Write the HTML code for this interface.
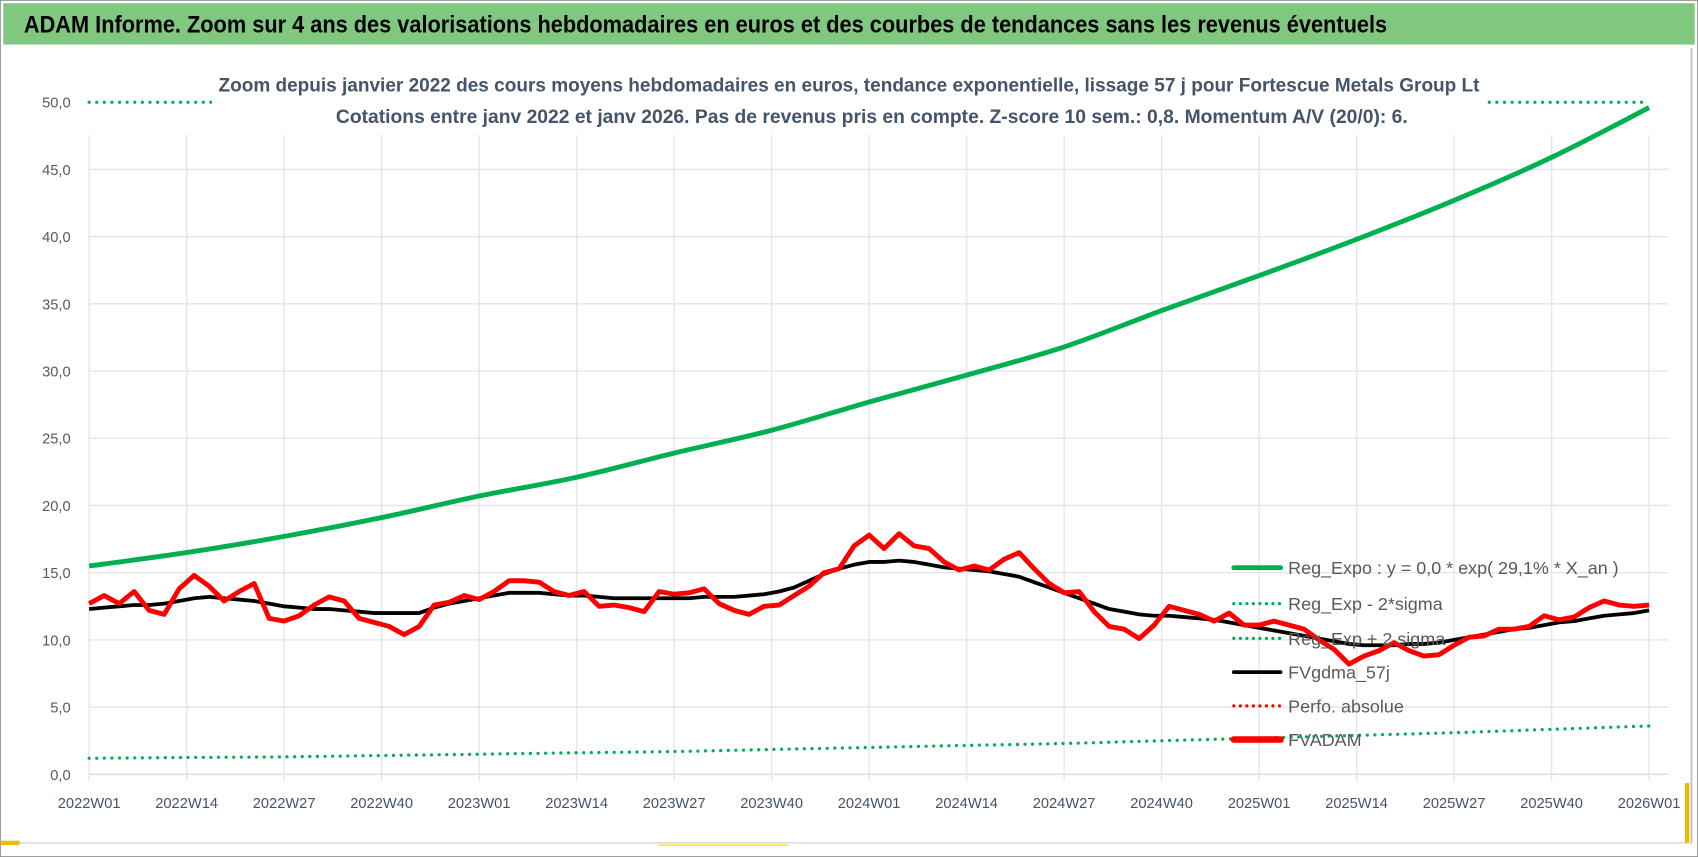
<!DOCTYPE html>
<html><head><meta charset="utf-8">
<style>
html,body{margin:0;padding:0;background:#fff;}
svg{display:block;}
text{font-family:"Liberation Sans Narrow","Liberation Sans",sans-serif;}
</style></head>
<body>
<svg id="chart" width="1698" height="857" viewBox="0 0 1562 788" preserveAspectRatio="none" xmlns="http://www.w3.org/2000/svg">
  <rect x="0" y="0" width="1562" height="788" fill="#fff" stroke="#888" stroke-width="1.5"/>
  <rect x="3" y="3" width="1556" height="38" fill="#80c87f"/>
  <text x="22" y="30" font-size="22" font-weight="bold" fill="#000" textLength="1254" lengthAdjust="spacingAndGlyphs">ADAM Informe. Zoom sur 4 ans des valorisations hebdomadaires en euros et des courbes de tendances sans les revenus éventuels</text>
  <line x1="1556" y1="44" x2="1556" y2="776" stroke="#bbb" stroke-width="1.5"/>
  <line x1="3" y1="775" x2="1556" y2="775" stroke="#ddd" stroke-width="1.5"/>
  <rect x="1" y="773" width="17" height="4" fill="#f5b800"/>
  <rect x="1550" y="720" width="4" height="55" fill="#f5b800"/>
  <rect x="605" y="776" width="120" height="2" fill="#fbe870"/>
  <g id="grid"></g>
  <g id="series"></g>
  <rect x="195" y="60" width="1172" height="64" fill="#fff"/>
  <text x="781" y="84" font-size="17.5" font-weight="bold" fill="#44546a" text-anchor="middle" textLength="1160" lengthAdjust="spacingAndGlyphs">Zoom depuis janvier 2022 des cours moyens hebdomadaires en euros, tendance exponentielle, lissage 57 j pour Fortescue Metals Group Lt</text>
  <text x="802" y="113" font-size="17.5" font-weight="bold" fill="#44546a" text-anchor="middle" textLength="986" lengthAdjust="spacingAndGlyphs">Cotations entre janv 2022 et janv 2026. Pas de revenus pris en compte. Z-score 10 sem.: 0,8. Momentum A/V (20/0): 6.</text>
  <g id="legend"></g>
</svg>
<script>
// ---- data ----
const yTicks = [0,5,10,15,20,25,30,35,40,45,50];
const yTickLabels = ["0,0","5,0","10,0","15,0","20,0","25,0","30,0","35,0","40,0","45,0","50,0"];
const xTickWeeks = [0,13,26,39,52,65,78,91,104,117,130,143,156,169,182,195,208];
const xTickLabels = ["2022W01","2022W14","2022W27","2022W40","2023W01","2023W14","2023W27","2023W40","2024W01","2024W14","2024W27","2024W40","2025W01","2025W14","2025W27","2025W40","2026W01"];
// quarterly trend values (at xTickWeeks)
const regExpo = [15.5,16.5,17.7,19.1,20.7,22.1,23.9,25.6,27.7,29.7,31.8,34.5,37.1,39.8,42.7,45.9,49.6];
const regMinus2s = [1.2,1.25,1.3,1.4,1.5,1.6,1.7,1.85,2.0,2.15,2.3,2.5,2.7,2.9,3.1,3.35,3.6];
const regPlus2s = [57,59,61,63,65,68,71,74,77,80,84,88,92,96,100,105,110];
// bi-weekly values (weeks 0,2,...,208)
const fvadam = [12.7,13.3,12.7,13.6,12.2,11.9,13.8,14.8,14.0,12.9,13.6,14.2,11.6,11.4,11.8,12.6,13.2,12.9,11.6,11.3,11.0,10.4,11.0,12.6,12.8,13.3,13.0,13.6,14.4,14.4,14.3,13.6,13.3,13.6,12.5,12.6,12.4,12.1,13.6,13.4,13.5,13.8,12.7,12.2,11.9,12.5,12.6,13.3,14.0,15.0,15.3,17.0,17.8,16.8,17.9,17.0,16.8,15.8,15.2,15.5,15.2,16.0,16.5,15.3,14.2,13.5,13.6,12.1,11.0,10.8,10.1,11.1,12.5,12.2,11.9,11.4,12.0,11.1,11.1,11.4,11.1,10.8,10.0,9.3,8.2,8.8,9.2,9.8,9.2,8.8,8.9,9.6,10.2,10.3,10.8,10.8,11.0,11.8,11.5,11.7,12.4,12.9,12.6,12.5,12.6];
const fvgdma = [12.3,12.4,12.5,12.6,12.6,12.7,12.9,13.1,13.2,13.1,13.0,12.9,12.7,12.5,12.4,12.3,12.3,12.2,12.1,12.0,12.0,12.0,12.0,12.4,12.7,12.9,13.1,13.3,13.5,13.5,13.5,13.4,13.3,13.3,13.2,13.1,13.1,13.1,13.1,13.1,13.1,13.2,13.2,13.2,13.3,13.4,13.6,13.9,14.4,14.9,15.3,15.6,15.8,15.8,15.9,15.8,15.6,15.4,15.3,15.2,15.1,14.9,14.7,14.3,13.9,13.5,13.1,12.7,12.3,12.1,11.9,11.8,11.8,11.7,11.6,11.5,11.3,11.1,10.9,10.7,10.5,10.3,10.1,9.9,9.7,9.6,9.6,9.6,9.7,9.7,9.8,10.0,10.2,10.4,10.6,10.8,10.9,11.1,11.3,11.4,11.6,11.8,11.9,12.0,12.2];

// ---- axes ----
const X0=82, X1=1517, WMAX=208, Y0=712, Y50=94;
function xs(w){return X0+(X1-X0)*w/WMAX;}
function ys(v){return Y0+(Y50-Y0)*Math.min(v,50)/50;}
const NS="http://www.w3.org/2000/svg";
function mk(tag,attrs,parent){const e=document.createElementNS(NS,tag);for(const k in attrs)e.setAttribute(k,attrs[k]);parent.appendChild(e);return e;}
const grid=document.getElementById('grid'), series=document.getElementById('series'), legend=document.getElementById('legend');

yTicks.forEach((t,i)=>{
  if(t>0&&t<50){const l=mk('line',{x1:X0,x2:1535,y1:ys(t),y2:ys(t),stroke:'#e3e6ea','stroke-width':1.3},grid);
  
  }
  if(t===0){const l=mk('line',{x1:X0,x2:1535,y1:ys(t),y2:ys(t),stroke:'#d9dce0','stroke-width':1.3},grid);
  
  }
  const tx=mk('text',{x:65,y:ys(t)+5,'font-size':13.5,fill:'#595959','text-anchor':'end'},grid);
  tx.textContent=yTickLabels[i];
  
  
});
xTickWeeks.forEach((w,i)=>{
  const l=mk('line',{x1:xs(w),x2:xs(w),y1:124,y2:718,stroke:'#e3e6ea','stroke-width':1.3},grid);
  
  
  const tx=mk('text',{x:xs(w),y:743,'font-size':13.5,fill:'#44546a','text-anchor':'middle'},grid);
  tx.textContent=xTickLabels[i];
  
  
});

function pts(arr,step){return arr.map((v,i)=>xs(i*step).toFixed(1)+','+ys(v).toFixed(1)).join(' ');}
// smooth Catmull-Rom path through data points
function smoothPath(arr,weeks){
  const p=arr.map((v,i)=>[xs(weeks[i]),ys(v)]);
  let d='M'+p[0][0].toFixed(1)+','+p[0][1].toFixed(1);
  for(let i=0;i<p.length-1;i++){
    const p0=p[Math.max(0,i-1)],p1=p[i],p2=p[i+1],p3=p[Math.min(p.length-1,i+2)];
    const c1=[p1[0]+(p2[0]-p0[0])/6,p1[1]+(p2[1]-p0[1])/6];
    const c2=[p2[0]-(p3[0]-p1[0])/6,p2[1]-(p3[1]-p1[1])/6];
    d+=' C'+c1[0].toFixed(1)+','+c1[1].toFixed(1)+' '+c2[0].toFixed(1)+','+c2[1].toFixed(1)+' '+p2[0].toFixed(1)+','+p2[1].toFixed(1);
  }
  return d;
}

const up=mk('path',{d:smoothPath(regPlus2s.map(v=>Math.min(v,50)),xTickWeeks),fill:'none',stroke:'#00b050','stroke-width':3,'stroke-dasharray':'0 7','stroke-linecap':'round'},series);


const lo=mk('path',{d:smoothPath(regMinus2s,xTickWeeks),fill:'none',stroke:'#00b050','stroke-width':3,'stroke-dasharray':'0 7','stroke-linecap':'round'},series);


const ge=mk('path',{d:smoothPath(regExpo,xTickWeeks),fill:'none',stroke:'#00b050','stroke-width':4.5,'stroke-linejoin':'round'},series);


const bl=mk('polyline',{points:pts(fvgdma,2),fill:'none',stroke:'#000','stroke-width':3.5,'stroke-linejoin':'round'},series);


const rd=mk('polyline',{points:pts(fvadam,2),fill:'none',stroke:'#ff0000','stroke-width':4.5,'stroke-linejoin':'round'},series);



const legNames=["Reg_Expo : y = 0,0 * exp( 29,1% *  X_an )","Reg_Exp - 2*sigma","Reg_Exp + 2 sigma","FVgdma_57j","Perfo. absolue","FVADAM"];
const legColors=['#00b050','#00b050','#00b050','#000','#ff0000','#ff0000'];
const legDash=['none','0 6','0 6','none','0 6','none'];
const legW=[4.5,3,3,3.5,3,6];
const legY=[522,555,587,618,649,680];
legNames.forEach((n,i)=>{
  const g=mk('g',{},legend);
  
  
  mk('line',{x1:1135,x2:1178,y1:legY[i],y2:legY[i],stroke:legColors[i],'stroke-width':legW[i],'stroke-dasharray':legDash[i],'stroke-linecap':'round'},g);
  const t=mk('text',{x:1185,y:legY[i]+6,'font-size':16.5,fill:'#595959'},g);
  t.textContent=n;
});
</script>
</body></html>
